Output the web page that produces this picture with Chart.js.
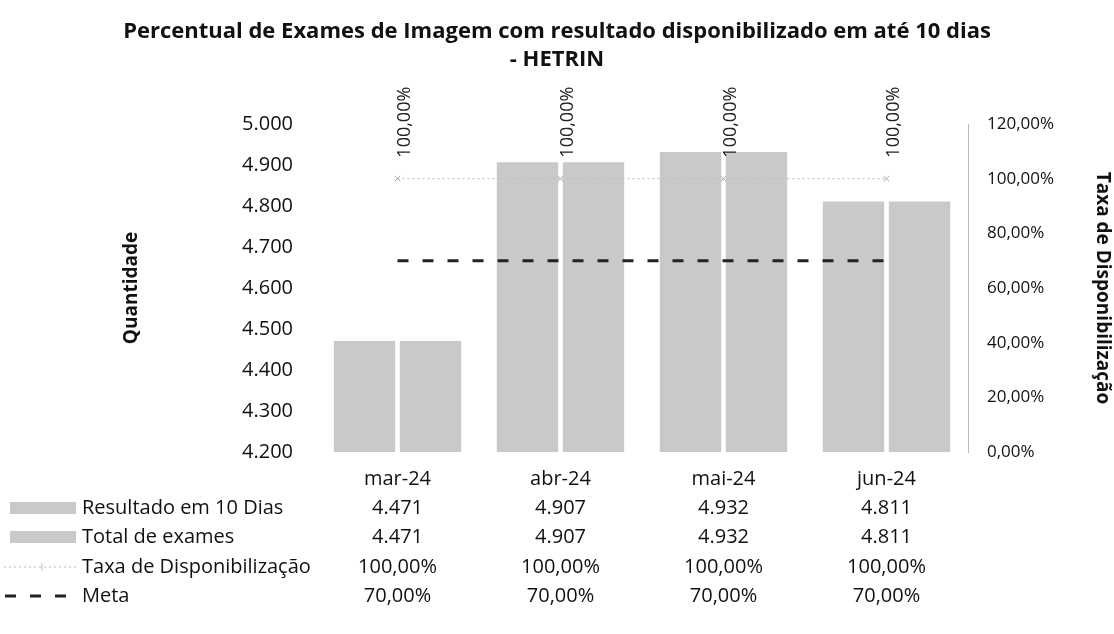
<!DOCTYPE html>
<html lang="pt-BR">
<head>
  <meta charset="UTF-8">
  <title>Percentual de Exames de Imagem - HETRIN</title>
  <script src="https://cdn.jsdelivr.net/npm/chart.js"></script>
  <style>
    html, body { margin: 0; padding: 0; background: #fff; }
    #wrap { width: 1114px; height: 634px; }
  </style>
</head>
<body>
  <div id="wrap">
    <canvas id="myChart" width="1114" height="634"></canvas>
  </div>

  <script>
    // dados
    const categories = ['mar-24', 'abr-24', 'mai-24', 'jun-24'];
    const resultado10Dias = [4471, 4907, 4932, 4811];
    const totalExames = [4471, 4907, 4932, 4811];
    const taxaDisponibilizacao = [100, 100, 100, 100];
    const meta = [70, 70, 70, 70];
    const titleLines = ['Percentual de Exames de Imagem com resultado disponibilizado em até 10 dias', '- HETRIN'];

    const FONT = "'Open Sans', 'Noto Sans', sans-serif";
    const BAR_GREY = '#c9c9c9';

    function fmtQtd(v) {
      return String(Math.round(v)).replace(/\B(?=(\d{3})+(?!\d))/g, '.');
    }
    function fmtPct(v) {
      return v.toFixed(2).replace('.', ',') + '%';
    }

    // rótulos 100,00% girados + tabela de dados embaixo
    const extras = {
      id: 'extras',
      beforeDraw(chart) {
        const ctx = chart.ctx;
        ctx.save();
        ctx.fillStyle = '#fff';
        ctx.fillRect(0, 0, chart.width, chart.height);
        ctx.fillStyle = '#111';
        ctx.font = 'bold 22px ' + FONT;
        ctx.textAlign = 'center';
        ctx.textBaseline = 'middle';
        ctx.fillText(titleLines[0], 557, 32);
        ctx.fillText(titleLines[1], 557, 60);
        ctx.restore();
      },
      afterDatasetsDraw(chart) {
        const ctx = chart.ctx;
        const metaTaxa = chart.getDatasetMeta(2);
        ctx.save();
        ctx.fillStyle = '#222';
        ctx.font = '18px ' + FONT;
        ctx.textAlign = 'left';
        ctx.textBaseline = 'middle';
        metaTaxa.data.forEach((pt, i) => {
          ctx.save();
          ctx.translate(pt.x + 7, pt.y - 21);
          ctx.rotate(-Math.PI / 2);
          ctx.fillText(fmtPct(taxaDisponibilizacao[i]), 0, 0);
          ctx.restore();
        });
        ctx.restore();
      },
      afterDraw(chart) {
        const ctx = chart.ctx;
        const x = chart.scales.x;
        const rows = [
          { label: 'Resultado em 10 Dias', vals: resultado10Dias.map(fmtQtd), kind: 'bar' },
          { label: 'Total de exames', vals: totalExames.map(fmtQtd), kind: 'bar' },
          { label: 'Taxa de Disponibilização', vals: taxaDisponibilizacao.map(fmtPct), kind: 'dot' },
          { label: 'Meta', vals: meta.map(fmtPct), kind: 'dash' }
        ];
        const rowY = [508, 537, 567, 596];
        ctx.save();
        ctx.font = '20px ' + FONT;
        ctx.textBaseline = 'middle';
        rows.forEach((r, k) => {
          const y = rowY[k];
          // legenda
          if (r.kind === 'bar') {
            ctx.fillStyle = BAR_GREY;
            ctx.fillRect(10, y - 6, 66, 12);
          } else if (r.kind === 'dot') {
            ctx.strokeStyle = '#bbb';
            ctx.lineWidth = 1;
            ctx.setLineDash([2, 3]);
            ctx.beginPath(); ctx.moveTo(4, y); ctx.lineTo(76, y); ctx.stroke();
            ctx.setLineDash([]);
            ctx.beginPath(); ctx.moveTo(42, y - 4); ctx.lineTo(42, y + 4); ctx.stroke();
          } else {
            ctx.strokeStyle = '#222';
            ctx.lineWidth = 3;
            ctx.setLineDash([11, 14]);
            ctx.beginPath(); ctx.moveTo(5, y); ctx.lineTo(76, y); ctx.stroke();
            ctx.setLineDash([]);
          }
          ctx.fillStyle = '#111';
          ctx.textAlign = 'left';
          ctx.fillText(r.label, 82, y);
          ctx.textAlign = 'center';
          r.vals.forEach((v, i) => ctx.fillText(v, x.getPixelForValue(i), y));
        });
        ctx.restore();
      }
    };

    const ctx = document.getElementById('myChart').getContext('2d');
    new Chart(ctx, {
      type: 'bar',
      data: {
        labels: categories,
        datasets: [
          {
            label: 'Resultado em 10 Dias',
            data: resultado10Dias,
            backgroundColor: BAR_GREY,
            yAxisID: 'y',
            order: 2,
            categoryPercentage: 0.81,
            barPercentage: 0.93
          },
          {
            label: 'Total de exames',
            data: totalExames,
            backgroundColor: BAR_GREY,
            yAxisID: 'y',
            order: 2,
            categoryPercentage: 0.81,
            barPercentage: 0.93
          },
          {
            type: 'line',
            label: 'Taxa de Disponibilização',
            data: taxaDisponibilizacao,
            yAxisID: 'y1',
            borderColor: '#bdbdbd',
            borderWidth: 1,
            borderDash: [2, 3],
            pointStyle: 'crossRot',
            pointRadius: 4,
            pointBorderColor: '#aaa',
            pointBorderWidth: 1,
            fill: false,
            order: 1
          },
          {
            type: 'line',
            label: 'Meta',
            data: meta,
            yAxisID: 'y1',
            borderColor: '#222',
            borderWidth: 3,
            borderDash: [11, 14],
            pointRadius: 0,
            fill: false,
            order: 0
          }
        ]
      },
      options: {
        responsive: false,
        animation: false,
        layout: { padding: { top: 124, left: 0, right: 0, bottom: 0 } },
        plugins: {
          legend: { display: false },
          title: { display: false },
          tooltip: { enabled: false }
        },
        scales: {
          x: {
            grid: { display: false, drawTicks: false },
            border: { display: false },
            ticks: { color: '#111', font: { family: FONT, size: 20 }, padding: 15, maxRotation: 0 },
            afterFit(scale) { scale.height = 634 - 452; }
          },
          y: {
            position: 'left',
            min: 4200,
            max: 5000,
            grid: { display: false, drawTicks: false },
            border: { display: false },
            ticks: {
              stepSize: 100,
              color: '#111',
              padding: 23,
              font: { family: FONT, size: 20 },
              callback: v => fmtQtd(v)
            },
            title: {
              display: true,
              text: 'Quantidade',
              color: '#111',
              font: { family: FONT, size: 19, weight: 'bold' },
              padding: { top: 120, bottom: 0 }
            },
            afterFit(scale) { scale.width = 316; }
          },
          y1: {
            position: 'right',
            min: 0,
            max: 120,
            grid: { display: false, drawTicks: false },
            border: { display: true, color: '#bbb', width: 1, dash: [1, 2] },
            ticks: {
              stepSize: 20,
              color: '#111',
              padding: 19,
              font: { family: FONT, size: 17 },
              callback: v => fmtPct(v)
            },
            title: {
              display: true,
              text: 'Taxa de Disponibilização',
              color: '#111',
              font: { family: FONT, size: 19, weight: 'bold' },
              padding: { top: 0, bottom: 0 }
            },
            afterFit(scale) { scale.width = 1114 - 968; }
          }
        }
      },
      plugins: [extras]
    });
  </script>
</body>
</html>
